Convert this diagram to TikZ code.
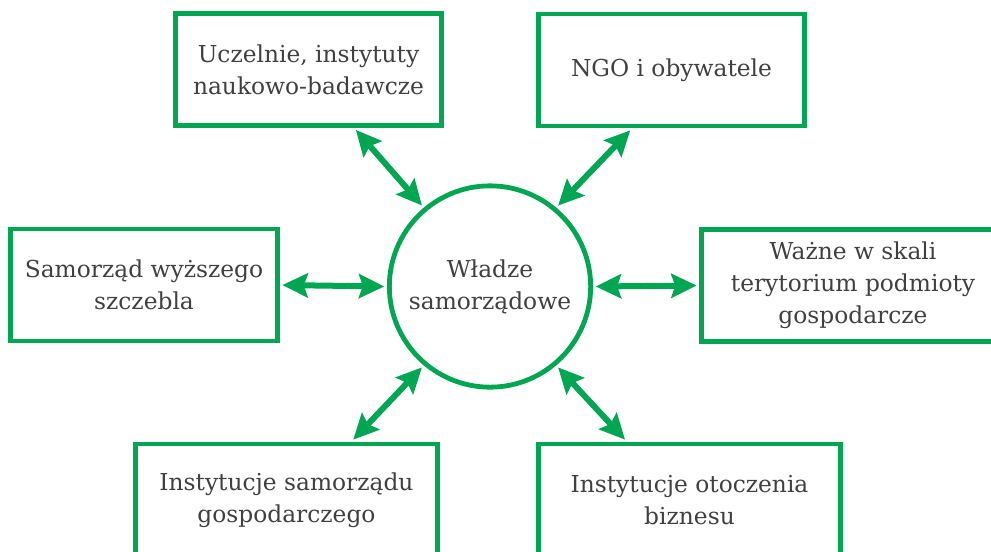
\documentclass[tikz,border=0pt]{standalone}
\usepackage{fontspec}
\setmainfont{DejaVu Serif}
\usepackage{tikz}
\usetikzlibrary{positioning,arrows.meta}
\definecolor{leaf}{HTML}{00A651}
\definecolor{ink} {HTML}{404040}
\tikzset{
  >=stealth,
  every node/.style={font=\fontsize{17.5}{24}\selectfont, text=ink},
  % --- nodes
  box/.style  = {draw=leaf, line width=3.6pt, fill=white, align=center,
                 inner sep=0pt, minimum width=200pt, minimum height=84pt},
  wbox/.style = {box, minimum width=227pt},
  hub/.style  = {circle, draw=leaf, line width=3.6pt, fill=white, align=center,
                 inner sep=0pt, minimum size=151pt},
  % --- edges
  e/.style    = {{Stealth[length=19pt,width=18pt,inset=3pt]}-{Stealth[length=19pt,width=18pt,inset=3pt]},
                 line width=4.5pt, draw=leaf, shorten <=2pt, shorten >=2pt},
}

\begin{document}
\begin{tikzpicture}[x=0.75pt,y=-0.75pt]
  \useasboundingbox (0,0) rectangle (991,551);

  \node[hub]  (wl)  at (490,286.5) {Władze\\samorządowe};

  \node[box]  (ucz) at (308.5,69.5) {Uczelnie, instytuty\\naukowo-badawcze};
  \node[box]  (ngo) at (671.5,70)   {NGO i obywatele};
  \node[box]  (sam) at (144,285)    {Samorząd wyższego\\szczebla};
  \node[wbox] (waz) at (853,285.5)  {Ważne w skali\\terytorium podmioty\\gospodarcze};
  \node[wbox] (ins) at (286.5,500)  {Instytucje samorządu\\gospodarczego};
  \node[wbox] (oto) at (689.5,500)  {Instytucje otoczenia\\biznesu};

  \draw[e] (ucz.-52)  -- (wl.130);
  \draw[e] (ngo.-124) -- (wl.50);
  \draw[e] (sam.east) -- (wl.180);
  \draw[e] (wl.0)     -- (waz.west);
  \draw[e] (ins.42)   -- (wl.230);
  \draw[e] (oto.137)  -- (wl.310);
\end{tikzpicture}
\end{document}
